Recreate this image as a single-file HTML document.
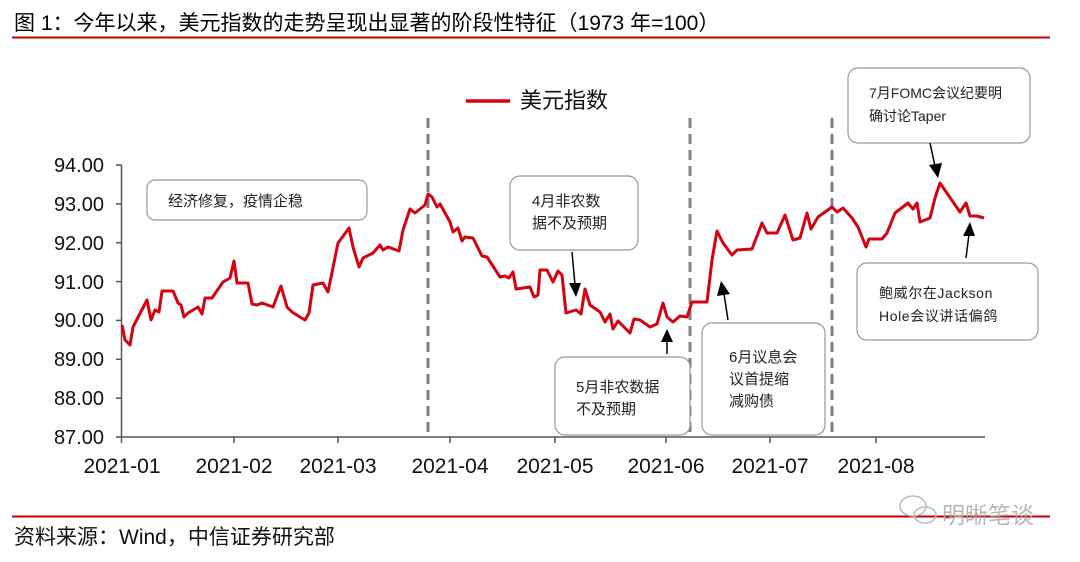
<!DOCTYPE html>
<html><head><meta charset="utf-8"><style>
html,body{margin:0;padding:0;background:#fff;}
svg{display:block;font-family:"Liberation Sans","Noto Sans CJK SC",sans-serif;}
</style></head><body>
<svg width="1080" height="562" viewBox="0 0 1080 562" xmlns="http://www.w3.org/2000/svg">
<text x="14" y="30" font-size="21" fill="#000">图 1：今年以来，美元指数的走势呈现出显著的阶段性特征（1973 年=100）</text>
<line x1="12" y1="37.5" x2="1050" y2="37.5" stroke="#c00000" stroke-width="2"/>
<g stroke="#555" stroke-width="1.5" fill="none">
<line x1="121.5" y1="165" x2="121.5" y2="437"/>
<line x1="121.5" y1="437" x2="985" y2="437"/>
<line x1="116" y1="165" x2="121.5" y2="165"/><line x1="116" y1="203.9" x2="121.5" y2="203.9"/><line x1="116" y1="242.7" x2="121.5" y2="242.7"/><line x1="116" y1="281.6" x2="121.5" y2="281.6"/><line x1="116" y1="320.4" x2="121.5" y2="320.4"/><line x1="116" y1="359.3" x2="121.5" y2="359.3"/><line x1="116" y1="398.1" x2="121.5" y2="398.1"/><line x1="116" y1="437" x2="121.5" y2="437"/>
<line x1="121.5" y1="437" x2="121.5" y2="443"/><line x1="234" y1="437" x2="234" y2="443"/><line x1="338" y1="437" x2="338" y2="443"/><line x1="450" y1="437" x2="450" y2="443"/><line x1="555" y1="437" x2="555" y2="443"/><line x1="666" y1="437" x2="666" y2="443"/><line x1="770" y1="437" x2="770" y2="443"/><line x1="876" y1="437" x2="876" y2="443"/>
</g>
<g font-size="20" fill="#111" text-anchor="end">
<text x="104" y="172">94.00</text><text x="104" y="211">93.00</text><text x="104" y="250">92.00</text><text x="104" y="289">91.00</text><text x="104" y="327">90.00</text><text x="104" y="366">89.00</text><text x="104" y="405">88.00</text><text x="104" y="444">87.00</text>
</g>
<g font-size="21" fill="#111" text-anchor="middle">
<text x="122" y="473">2021-01</text><text x="234" y="473">2021-02</text><text x="338" y="473">2021-03</text><text x="450" y="473">2021-04</text><text x="555" y="473">2021-05</text><text x="666" y="473">2021-06</text><text x="770" y="473">2021-07</text><text x="876" y="473">2021-08</text>
</g>
<g stroke="#808080" stroke-width="3" stroke-dasharray="10,6">
<line x1="428" y1="118" x2="428" y2="437"/><line x1="690" y1="118" x2="690" y2="437"/><line x1="832" y1="118" x2="832" y2="437"/>
</g>
<line x1="466" y1="101" x2="510" y2="101" stroke="#d7000f" stroke-width="3.5"/>
<text x="520" y="108" font-size="22" fill="#111">美元指数</text>
<polyline fill="none" stroke="#d7000f" stroke-width="3" stroke-linejoin="round" points="122,325 125,340 130,345 133,327 147,300 151,320 155,310 159,312 162,291 173,291 178,303 181,305 184,317 188,313 198,307 202,314 205,298 212,298 223,282 230,278 234,261 237,283 248,283 252,304 257,305 262,303 273,307 281,286 287,307 292,312 300,317 305,320 309,313 313,285 323,283 328,292 338,243 349,228 353,247 359,267 363,258 373,253 380,245 383,250 388,247 399,251 403,230 410,209 415,213 425,205 428,194 432,197 437,207 440,204 450,222 453,232 458,228 462,241 465,237 473,238 482,256 487,257 500,277 505,276 509,278 513,272 516,289 530,287 534,297 538,295 540,270 547,270 553,282 558,271 562,275 566,313 576,310 581,314 585,289 590,305 600,312 605,322 610,314 613,329 618,321 630,333 634,319 640,320 650,327 657,324 663,303 667,317 673,322 680,316 687,317 692,302 707,302 712,260 717,231 723,243 732,255 737,250 752,249 762,223 767,233 777,233 785,215 793,240 800,238 807,213 811,229 818,217 832,207 837,212 843,208 852,218 858,227 866,247 869,239 882,239 887,233 895,213 908,203 913,209 917,203 920,222 930,218 935,198 940,183 953,202 960,212 966,203 970,216 977,216 984,218"/>
<g fill="#fff" stroke="#999" stroke-width="1.2">
<rect x="147" y="180" width="220" height="40" rx="8"/>
<rect x="510" y="176" width="128" height="74" rx="10"/>
<rect x="555" y="357" width="135" height="78" rx="10"/>
<rect x="702" y="323" width="123" height="112" rx="10"/>
<rect x="848" y="68" width="182" height="75" rx="10"/>
<rect x="857" y="263" width="181" height="77" rx="10"/>
</g>
<g font-size="15" fill="#222">
<text x="168" y="206">经济修复，疫情企稳</text>
<text x="532" y="206">4月非农数</text><text x="532" y="228">据不及预期</text>
<text x="576" y="392">5月非农数据</text><text x="576" y="414">不及预期</text>
<text x="729" y="362">6月议息会</text><text x="729" y="384">议首提缩</text><text x="729" y="406">减购债</text>
</g>
<g font-size="14" fill="#222">
<text x="869" y="98">7月FOMC会议纪要明</text><text x="869" y="121">确讨论Taper</text>
<text x="879" y="298" letter-spacing="0.6">鲍威尔在Jackson</text><text x="879" y="321" letter-spacing="0.6">Hole会议讲话偏鸽</text>
</g>
<g stroke="#000" stroke-width="1.5">
<line x1="572" y1="252" x2="575" y2="285"/><line x1="667" y1="354" x2="667" y2="340"/><line x1="728" y1="320" x2="724" y2="294"/><line x1="930" y1="143" x2="935" y2="166"/><line x1="966" y1="258" x2="969" y2="234"/>
</g>
<g fill="#000">
<path d="M569,283 L581,283 L576,297 Z"/>
<path d="M661,342 L673,342 L667,329 Z"/>
<path d="M717,296 L730,294 L721,281 Z"/>
<path d="M929,165 L942,163 L938,178 Z"/>
<path d="M963,236 L975,236 L970,222 Z"/>
</g>
<line x1="12" y1="516.5" x2="1050" y2="516.5" stroke="#c00000" stroke-width="2"/>
<text x="942" y="523" font-size="23" fill="#aaa" opacity="0.85">明晰笔谈</text>
<g fill="none" stroke="#bbb" stroke-width="1.5"><ellipse cx="913" cy="506" rx="13" ry="10"/><ellipse cx="925" cy="515" rx="11" ry="8"/></g>
<text x="14" y="544" font-size="21" fill="#111">资料来源：Wind，中信证券研究部</text>
</svg>
</body></html>
